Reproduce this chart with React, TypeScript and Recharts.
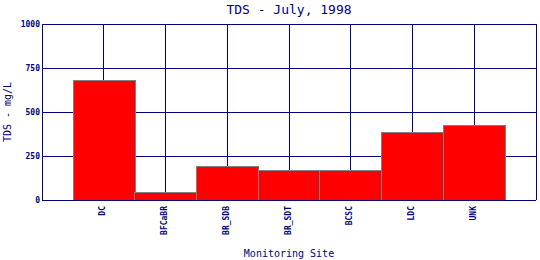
import { BarChart, Bar, XAxis, YAxis, CartesianGrid } from 'recharts';

const sites = ['DC', 'BFCaBR', 'BR_SDB', 'BR_SDT', 'BCSC', 'LDC', 'UNK'];
const tdsValues = [677, 41, 193, 170, 170, 386, 425];
const yTicks = [0, 250, 500, 750, 1000];

const NAVY = '#000080';
const FONT = '"DejaVu Sans Mono", "Liberation Mono", monospace';

const data = sites.map((site, i) => ({ site, tds: tdsValues[i] }));

function SiteTick({ x, y, payload }: any) {
  return (
    <text
      x={x}
      y={y}
      dy={1.5}
      transform={`rotate(-90, ${x}, ${y})`}
      textAnchor="end"
      fill={NAVY}
      fontSize={8}
      fontWeight="bold"
      fontFamily={FONT}
    >
      {payload.value}
    </text>
  );
}

function ValueTick({ x, y, payload }: any) {
  return (
    <text
      x={x}
      y={y}
      dy={3}
      textAnchor="end"
      fill={NAVY}
      fontSize={8}
      fontWeight="bold"
      fontFamily={FONT}
    >
      {payload.value}
    </text>
  );
}

export default function App() {
  return (
    <div style={{ position: 'absolute', left: 0, top: 0, width: 540, height: 260, background: '#fff' }}>
      <svg width={540} height={20} style={{ position: 'absolute', left: 0, top: 0 }}>
        <text x={289} y={13.5} textAnchor="middle" fill={NAVY} fontSize={13} fontFamily={FONT}>
          TDS - July, 1998
        </text>
      </svg>
      <BarChart
        width={540}
        height={260}
        data={data}
        margin={{ top: 24, right: 4, bottom: 30, left: 0 }}
        barCategoryGap={0}
        style={{ position: 'absolute', left: 0, top: 0, shapeRendering: 'crispEdges' }}
      >
        <CartesianGrid stroke={NAVY} strokeWidth={1} />
        <XAxis
          dataKey="site"
          height={30}
          stroke={NAVY}
          tickLine={false}
          tickSize={0}
          tickMargin={6}
          padding={{ left: 31, right: 31 }}
          interval={0}
          tick={<SiteTick />}
          label={{
            content: ({ viewBox }: any) => (
              <text
                x={viewBox.x + viewBox.width / 2}
                y={257}
                textAnchor="middle"
                fill={NAVY}
                fontSize={10}
                fontFamily={FONT}
              >
                Monitoring Site
              </text>
            ),
          }}
        />
        <YAxis
          width={42}
          domain={[0, 1000]}
          ticks={yTicks}
          stroke={NAVY}
          tickLine={false}
          tickSize={0}
          tickMargin={2}
          tick={<ValueTick />}
          label={{
            content: () => (
              <text
                x={10.5}
                y={112}
                transform="rotate(-90, 10.5, 112)"
                textAnchor="middle"
                fill={NAVY}
                fontSize={10}
                fontFamily={FONT}
              >
                TDS - mg/L
              </text>
            ),
          }}
        />
        <YAxis
          yAxisId="right"
          orientation="right"
          width={0}
          domain={[0, 1000]}
          stroke={NAVY}
          tick={false}
          tickLine={false}
        />
        <Bar dataKey="tds" fill="#ff0000" stroke="#808080" strokeWidth={1} isAnimationActive={false} />
      </BarChart>
    </div>
  );
}
